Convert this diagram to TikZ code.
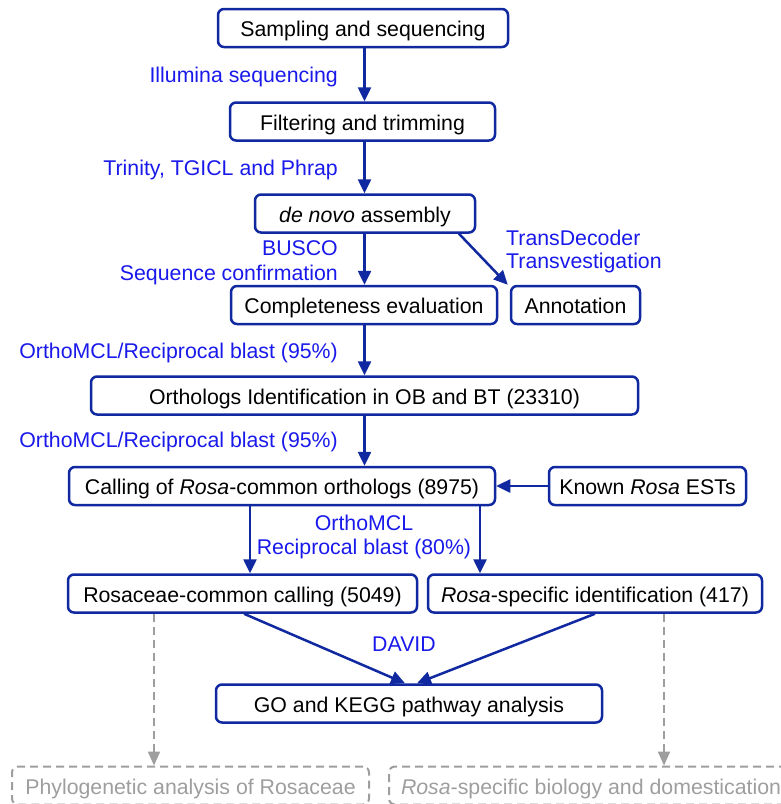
\documentclass[tikz,border=0pt]{standalone}
\usepackage{fontspec}
\setmainfont{Liberation Sans}
\usetikzlibrary{arrows.meta,calc}
\definecolor{boxblue}{RGB}{16,40,160}
\definecolor{labblue}{RGB}{25,25,235}
\definecolor{dgray}{RGB}{158,158,158}
\begin{document}
\begin{tikzpicture}[x=1pt,y=-1pt,
  txt/.style={font=\fontsize{21.3}{25}\selectfont, text height=20pt, text depth=2.5pt},
  box/.style={txt, draw=boxblue, line width=2.5pt, rounded corners=6pt, inner sep=0pt, minimum height=38pt, text=black},
  dbox/.style={txt, draw=dgray, line width=2pt, dash pattern=on 8pt off 5pt, rounded corners=6pt, inner ysep=0pt, minimum height=38pt, text=dgray},
  lab/.style={txt, text=labblue, inner sep=0pt},
  arr/.style={draw=boxblue, line width=2.5pt, -{Triangle[length=14pt,width=13pt]}},
  darr/.style={draw=dgray, line width=2pt, dash pattern=on 8pt off 5pt, -{Triangle[length=14pt,width=12pt]}}]
\useasboundingbox (0,0) rectangle (781,804);
\clip (0,0) rectangle (781,804);
% boxes
\node[box, minimum width=290pt] (samp) at (363,28) {Sampling and sequencing};
\node[box, minimum width=265pt] (filt) at (362.5,121.5) {Filtering and trimming};
\node[box, minimum width=220pt] (dn) at (365,213.5) {\textit{de novo} assembly};
\node[box, minimum width=266pt] (comp) at (364,305) {Completeness evaluation};
\node[box, minimum width=129pt] (ann) at (575.5,305) {Annotation};
\node[box, minimum width=547pt] (orth) at (364.5,395.5) {Orthologs Identification in OB and BT (23310)};
\node[box, minimum width=426pt] (call) at (282,486) {Calling of \textit{Rosa}-common orthologs (8975)};
\node[box, minimum width=197pt] (known) at (647.5,486) {Known \textit{Rosa} ESTs};
\node[box, minimum width=349pt] (rosc) at (242.5,593.5) {Rosaceae-common calling (5049)};
\node[box, minimum width=334pt] (rspec) at (595,593.5) {\textit{Rosa}-specific identification (417)};
\node[box, minimum width=386pt] (go) at (409,703.5) {GO and KEGG pathway analysis};
\node[dbox, minimum width=357pt] (phy) at (190.5,785.5) {Phylogenetic analysis of Rosaceae};
\node[dbox, anchor=west, inner xsep=12pt] (rbio) at (388,785.5) {\textit{Rosa}-specific biology and domestication};
% labels
\node[lab, anchor=east] (lill) at (338,74) {Illumina sequencing};
\node[lab, anchor=east] (ltri) at (338,167) {Trinity, TGICL and Phrap};
\node[lab, anchor=east] (lbus) at (338,247) {BUSCO};
\node[lab, anchor=east] (lseq) at (338,272) {Sequence confirmation};
\node[lab, anchor=west] (ltd) at (506,237) {TransDecoder};
\node[lab, anchor=west] (ltv) at (506,260) {Transvestigation};
\node[lab, anchor=east] (lom1) at (338,350) {OrthoMCL/Reciprocal blast (95\%)};
\node[lab, anchor=east] (lom2) at (338,439) {OrthoMCL/Reciprocal blast (95\%)};
\node[lab] (lom3) at (364,522) {OrthoMCL};
\node[lab] (lrb) at (364,546) {Reciprocal blast (80\%)};
\node[lab] (ldav) at (404,643) {DAVID};
% axis coordinates
\coordinate (ax) at (364.5,0);
\coordinate (c1) at (250,0);
\coordinate (c2) at (480,0);
\coordinate (d1) at (244,0);
\coordinate (d2) at (405,0);
\coordinate (d3) at (595,0);
\coordinate (d4) at (417,0);
\coordinate (g1) at (154,0);
\coordinate (g2) at (664,0);
\coordinate (dd) at (459,0);
% connectors
\draw[arr] (samp.south -| ax) -- (filt.north -| ax);
\draw[arr] (filt.south -| ax) -- (dn.north -| ax);
\draw[arr] (dn.south -| ax) -- (comp.north -| ax);
\draw[arr] (dn.south -| dd) -- ($(ann.north west)+(-2,0)$);
\draw[arr] (comp.south -| ax) -- (orth.north -| ax);
\draw[arr] (orth.south -| ax) -- (call.north -| ax);
\draw[arr] (known.west) -- (call.east);
\draw[arr] (call.south -| c1) -- (rosc.north -| c1);
\draw[arr] (call.south -| c2) -- (rspec.north -| c2);
\draw[arr] (rosc.south -| d1) -- (go.north -| d2);
\draw[arr] (rspec.south -| d3) -- (go.north -| d4);
\draw[darr] (rosc.south -| g1) -- (phy.north -| g1);
\draw[darr] (rspec.south -| g2) -- (rbio.north -| g2);
\end{tikzpicture}
\end{document}
